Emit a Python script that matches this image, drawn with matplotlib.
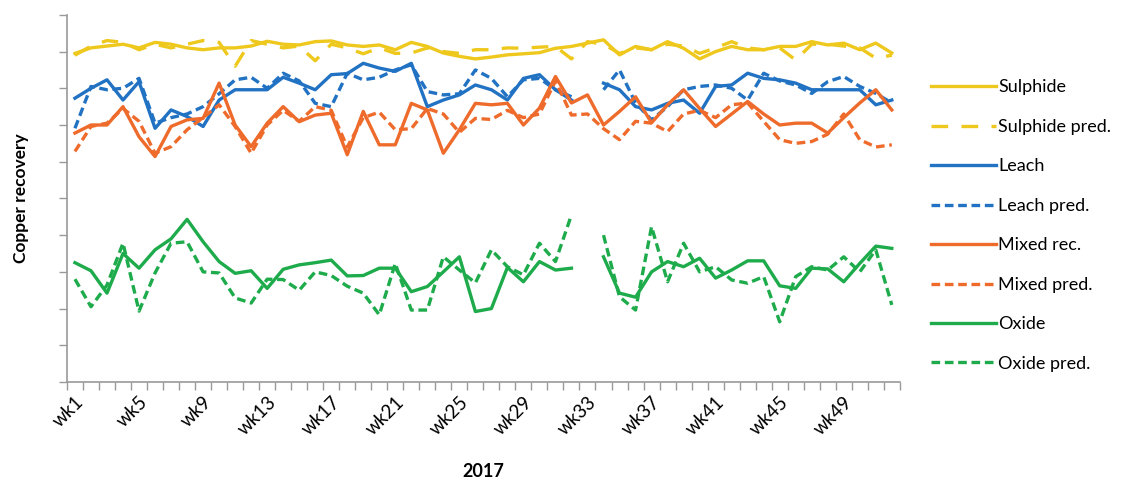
import numpy as np
import matplotlib.pyplot as plt

nan = np.nan
weeks = ['wk%d' % i for i in range(1, 53)]

sulphide = [8.95, 9.1, 9.15, 9.2, 9.1, 9.25, 9.2, 9.1, 9.05, 9.1, 9.1, 9.15, 9.28, 9.2, 9.18, 9.27,
            9.29, 9.18, 9.14, 9.18, 9.05, 9.25, 9.14, 8.96, 8.87, 8.8, 8.85, 8.91, 8.94, 8.97, 9.09, 9.14,
            9.23, 9.32, 8.91, 9.14, 9.05, 9.27, 9.09, 8.8, 9.0, 9.14, 9.05, 9.05, 9.14, 9.14, 9.27, 9.18,
            9.23, 9.05, 9.23, 8.96]
sulphide_pred = [8.9, 9.15, 9.3, 9.25, 9.05, 9.2, 9.1, 9.2, 9.3, 9.25, 8.6, 9.3, 9.2, 9.1, 9.15, 8.75,
                 9.2, 9.1, 8.94, 9.1, 8.95, 8.96, 9.1, 9.0, 8.95, 9.05, 9.05, 9.1, 9.09, 9.12, 9.14, 8.8,
                 9.27, 9.2, 8.95, 9.1, 9.05, 9.2, 9.15, 8.95, 9.1, 9.27, 9.1, 9.05, 9.1, 8.77, 9.2, 9.2,
                 9.15, 9.1, 8.82, 8.9]
leach = [7.73, 8.0, 8.23, 7.68, 8.18, 6.91, 7.41, 7.23, 6.96, 7.68, 7.96, 7.96, 7.96, 8.3, 8.14, 7.96,
         8.37, 8.4, 8.68, 8.55, 8.46, 8.68, 7.5, 7.68, 7.82, 8.09, 7.96, 7.68, 8.27, 8.37, 7.96, 7.68,
         nan, 8.14, 7.96, 7.5, 7.41, 7.59, 7.68, 7.32, 8.05, 8.09, 8.41, 8.27, 8.23, 8.14, 7.96, 7.96,
         7.96, 7.96, 7.55, 7.68]
leach_pred = [6.91, 8.05, 7.96, 8.0, 8.27, 7.05, 7.2, 7.3, 7.5, 7.85, 8.23, 8.3, 8.0, 8.41, 8.2, 7.59,
              7.5, 8.41, 8.23, 8.3, 8.5, 8.64, 7.91, 7.82, 7.85, 8.5, 8.27, 7.77, 8.23, 8.27, 7.96, 7.77,
              nan, 7.96, 8.5, 7.6, 7.14, 7.5, 7.96, 8.05, 8.09, 8.0, 7.68, 8.41, 8.2, 8.09, 7.86, 8.18,
              8.32, 8.05, 7.86, 7.6]
mixed = [6.78, 7.0, 7.0, 7.5, 6.68, 6.14, 6.96, 7.14, 7.18, 8.14, 7.0, 6.41, 7.05, 7.5, 7.09, 7.27,
         7.32, 6.19, 7.37, 6.46, 6.46, 7.59, 7.41, 6.23, 6.87, 7.59, 7.55, 7.59, 7.0, 7.46, 8.32, 7.6,
         7.82, 7.0, 7.37, 7.77, 7.06, 7.55, 7.96, 7.45, 6.96, 7.3, 7.64, 7.3, 7.0, 7.05, 7.05, 6.78,
         7.2, 7.6, 7.96, 7.41]
mixed_pred = [6.28, 6.96, 7.05, 7.45, 7.1, 6.23, 6.41, 6.87, 7.2, 7.55, 6.96, 6.23, 7.0, 7.4, 7.1, 7.5,
              7.4, 6.4, 7.2, 7.35, 6.87, 6.9, 7.45, 7.3, 6.8, 7.18, 7.15, 7.4, 7.2, 7.3, 8.2, 7.27,
              7.3, 6.9, 6.6, 7.1, 7.05, 6.82, 7.3, 7.4, 7.2, 7.55, 7.6, 7.1, 6.6, 6.5, 6.55, 6.75,
              7.3, 6.6, 6.4, 6.46]
oxide = [3.25, 3.03, 2.42, 3.5, 3.1, 3.6, 3.9, 4.43, 3.82, 3.28, 2.96, 3.03, 2.55, 3.07, 3.19, 3.25,
         3.32, 2.89, 2.9, 3.1, 3.1, 2.46, 2.6, 3.0, 3.41, 1.92, 2.0, 3.12, 2.73, 3.28, 3.05, 3.1,
         nan, 3.41, 2.42, 2.31, 3.0, 3.28, 3.14, 3.37, 2.83, 3.05, 3.3, 3.3, 2.62, 2.55, 3.1, 3.08,
         2.73, 3.23, 3.7, 3.64]
oxide_pred = [2.8, 2.05, 2.64, 3.78, 1.93, 2.97, 3.78, 3.82, 3.0, 2.97, 2.29, 2.15, 2.8, 2.79, 2.5, 3.0,
              2.9, 2.61, 2.42, 1.83, 3.23, 1.96, 1.96, 3.41, 3.05, 2.7, 3.6, 3.14, 2.92, 3.78, 3.28, 4.55,
              nan, 4.0, 2.32, 1.96, 4.23, 2.73, 3.78, 3.0, 3.14, 2.78, 2.69, 2.87, 1.64, 2.87, 3.14, 3.05,
              3.41, 3.0, 3.6, 2.1]

yellow = '#EEC81C'
blue = '#2272C3'
orange = '#EE6B2B'
green = '#1EAB4B'

plt.rcParams['font.family'] = ['Lato', 'DejaVu Sans']

fig = plt.figure(figsize=(11.29, 4.79), dpi=100)
ax = fig.add_axes([0.0593, 0.2025, 0.7377, 0.7665])
x = np.arange(len(weeks))
lw = 2.4

ax.plot(x, sulphide, color=yellow, lw=lw, label='Sulphide')
ax.plot(x, sulphide_pred, color=yellow, lw=lw, dashes=(5, 4), label='Sulphide pred.')
ax.plot(x, leach, color=blue, lw=lw, label='Leach')
ax.plot(x, leach_pred, color=blue, lw=lw, dashes=(2.6, 1.4), label='Leach pred.')
ax.plot(x, mixed, color=orange, lw=lw, label='Mixed rec.')
ax.plot(x, mixed_pred, color=orange, lw=lw, dashes=(2.6, 1.4), label='Mixed pred.')
ax.plot(x, oxide, color=green, lw=lw, label='Oxide')
ax.plot(x, oxide_pred, color=green, lw=lw, dashes=(2.6, 1.4), label='Oxide pred.')

ax.set_xlim(-0.5, len(weeks) - 0.5)
ax.set_ylim(0, 10)
ax.set_yticks(np.arange(0, 11))
ax.set_yticklabels([])
ax.set_xticks(x[::4])
ax.set_xticklabels(weeks[::4], rotation=45, ha='right', rotation_mode='anchor', fontsize=13.5)
ax.set_xticks(np.arange(-0.5, len(weeks)), minor=True)
ax.tick_params(axis='x', which='major', length=0, pad=8)
ax.tick_params(axis='x', which='minor', length=6, color='#9a9a9a', width=1)
ax.tick_params(axis='y', length=6, color='#9a9a9a', width=1)
for s in ['top', 'right']:
    ax.spines[s].set_visible(False)
for s in ['left', 'bottom']:
    ax.spines[s].set_color('#9a9a9a')
    ax.spines[s].set_linewidth(1.2)

ax.set_ylabel('Copper recovery', fontsize=12.5, fontweight='bold', labelpad=18)
ax.set_xlabel('2017', fontsize=13, fontweight='bold', labelpad=18)

fig.legend(loc='upper left', bbox_to_anchor=(0.81, 0.868), frameon=False, fontsize=13,
           handlelength=3.6, handletextpad=0.15, labelspacing=1.3)

fig.savefig('out.png', dpi=100)
